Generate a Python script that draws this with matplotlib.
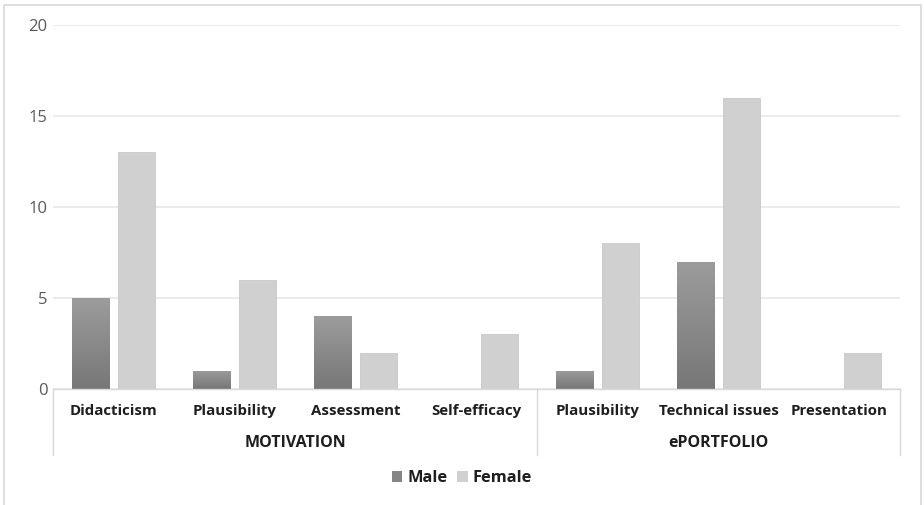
import numpy as np
import matplotlib
matplotlib.use("Agg")
import matplotlib.pyplot as plt
from matplotlib.patches import Patch, Rectangle
from matplotlib.colors import LinearSegmentedColormap
import matplotlib.transforms as mtransforms

categories = ["Didacticism", "Plausibility", "Assessment", "Self-efficacy",
              "Plausibility", "Technical issues", "Presentation"]
groups = ["MOTIVATION", "ePORTFOLIO"]
group_sizes = [4, 3]
male = [5, 1, 4, 0, 1, 7, 0]
female = [13, 6, 2, 3, 8, 16, 2]
yticks = [0, 5, 10, 15, 20]

plt.rcParams['font.family'] = ['Open Sans', 'DejaVu Sans']

fig = plt.figure(figsize=(9.24, 5.05), dpi=100)
ax = fig.add_axes([53 / 924, 116 / 505, 847 / 924, 364 / 505])

x = np.arange(len(categories))
w = 0.31
off = 0.19

male_bars = ax.bar(x - off, male, width=w, color="#8a8a8a", zorder=3)
female_bars = ax.bar(x + off, female, width=w, color="#d0d0d0",
                     edgecolor="#c8c8c8", linewidth=0.6, zorder=3)

# vertical gradient on the male bars (darker at the base)
grad_cmap = LinearSegmentedColormap.from_list("g", ["#777777", "#9c9c9c"])
grad = np.linspace(0, 1, 256).reshape(-1, 1)
for b in male_bars:
    h = b.get_height()
    if h <= 0:
        continue
    x0 = b.get_x()
    im = ax.imshow(grad, cmap=grad_cmap, origin="lower", aspect="auto",
                   extent=[x0, x0 + b.get_width(), 0, h], zorder=3.5)
    im.set_clip_path(b)

ax.set_xlim(-0.5, len(categories) - 0.5)
ax.set_ylim(0, 20)
ax.set_yticks(yticks)
ax.set_yticklabels([str(v) for v in yticks], fontsize=12, color="#595959")
ax.tick_params(axis="y", length=0, pad=4)
ax.set_xticks([])
ax.grid(axis="y", color="#e8e8e8", linewidth=1.2, zorder=0)
for s in ["top", "right", "left"]:
    ax.spines[s].set_visible(False)
ax.spines["bottom"].set_color("#d9d9d9")
ax.spines["bottom"].set_linewidth(1.0)
ax.spines["bottom"].set_zorder(4)

trans = mtransforms.blended_transform_factory(ax.transData, ax.transAxes)

for xi, lab in zip(x, categories):
    ax.text(xi, -0.06, lab, transform=trans, ha="center", va="center",
            fontsize=10.8, fontweight="bold", color="#1e1e1e")

edges = np.concatenate([[0], np.cumsum(group_sizes)]) - 0.5
for e in edges:
    ax.plot([e, e], [0, -0.181], transform=trans, color="#d9d9d9",
            linewidth=1.0, clip_on=False)
for i, g in enumerate(groups):
    ax.text((edges[i] + edges[i + 1]) / 2, -0.148, g, transform=trans,
            ha="center", va="center", fontsize=11.5, fontweight="bold",
            color="#1e1e1e")

handles = [Patch(facecolor="#858585", label="Male"),
           Patch(facecolor="#d0d0d0", label="Female")]
leg = fig.legend(handles=handles, loc="center", bbox_to_anchor=(0.5, 1 - 478 / 505),
                 ncol=2, frameon=False, handlelength=0.65, handleheight=0.65,
                 handletextpad=0.3, columnspacing=0.6,
                 prop={"weight": "bold", "size": 11.8})
for t in leg.get_texts():
    t.set_color("#1e1e1e")

# outer chart frame
fig.patches.append(Rectangle((4 / 924, -0.05), 917 / 924, 1.05 - 5 / 505,
                             transform=fig.transFigure, fill=False,
                             edgecolor="#d9d9d9", linewidth=1.2))

fig.savefig("out.png", dpi=100, facecolor="white")
